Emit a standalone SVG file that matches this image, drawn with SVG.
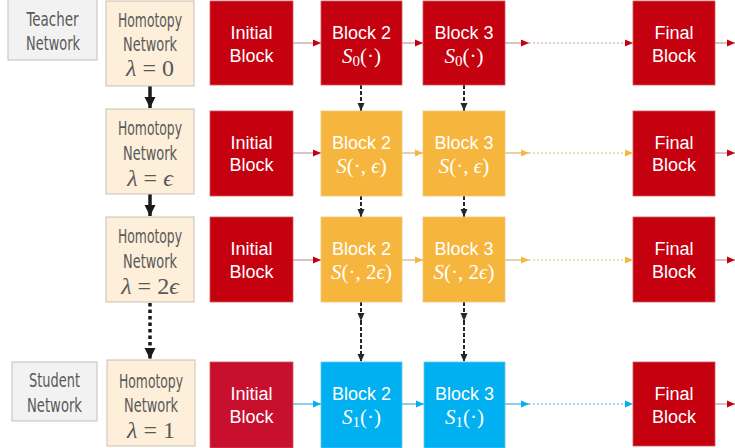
<svg xmlns="http://www.w3.org/2000/svg" width="735" height="448" viewBox="0 0 735 448">
<style>
.bg{fill:#ffffff}
.label{fill:#f2f2f2;stroke:#bfbfbf;stroke-width:1}
.homo{fill:#fdefd9;stroke:#c8c0b4;stroke-width:1}
.red{fill:#c5000f;stroke:#d05a5a;stroke-width:0.8}
.red2{fill:#c8102e;stroke:#d05a5a;stroke-width:0.8}
.yel{fill:#f6b63e;stroke:#f0c878;stroke-width:0.8}
.blu{fill:#00b0f0;stroke:#60c8f0;stroke-width:0.8}
.cond{font-family:"DejaVu Sans Condensed","DejaVu Sans",sans-serif;font-stretch:condensed;font-size:19.5px;fill:#595959;text-anchor:middle}
.math{font-family:"Liberation Serif","DejaVu Serif",serif;font-size:24px;fill:#595959;text-anchor:middle}
.bt{font-family:"Liberation Sans",Arial,sans-serif;font-size:18px;fill:#ffffff;text-anchor:middle}
.bm{font-family:"Liberation Serif","DejaVu Serif",serif;font-size:21px;fill:#ffffff;text-anchor:middle}
.it{font-style:italic}
.lr{stroke:#c8a0a0;stroke-width:1.3;fill:none}
.ly{stroke:#d6b888;stroke-width:1.3;fill:none}
.lb{stroke:#50b4e0;stroke-width:1.3;fill:none}
.dot{stroke-dasharray:2 2;stroke-width:1}
.vd{stroke:#262626;stroke-width:2;stroke-dasharray:4 2;fill:none}
.vs{stroke:#1a1a1a;stroke-width:3.5;fill:none}
.vdot{stroke:#1a1a1a;stroke-width:3.5;stroke-dasharray:3.5 3;fill:none}
</style>
<defs>
<marker id="aR" markerUnits="userSpaceOnUse" markerWidth="10" markerHeight="10" refX="9" refY="5" orient="auto"><path d="M1,1.5 L9,5 L1,8.5 Z" fill="#c5000f"/></marker>
<marker id="aY" markerUnits="userSpaceOnUse" markerWidth="10" markerHeight="10" refX="9" refY="5" orient="auto"><path d="M1,1.5 L9,5 L1,8.5 Z" fill="#f6b63e"/></marker>
<marker id="aB" markerUnits="userSpaceOnUse" markerWidth="10" markerHeight="10" refX="9" refY="5" orient="auto"><path d="M1,1.5 L9,5 L1,8.5 Z" fill="#00b0f0"/></marker>
<marker id="aD" markerUnits="userSpaceOnUse" markerWidth="10" markerHeight="10" refX="9" refY="5" orient="auto"><path d="M1,1.5 L9,5 L1,8.5 Z" fill="#262626"/></marker>
<marker id="aK" markerUnits="userSpaceOnUse" markerWidth="14" markerHeight="14" refX="12" refY="7" orient="auto"><path d="M1,1.5 L12,7 L1,12.5 Z" fill="#1a1a1a"/></marker>
</defs>
<rect class="bg" x="0" y="0" width="735" height="448"/>

<g id="connectors">
  <line class="vs" x1="150" y1="86" x2="150" y2="108" marker-end="url(#aK)"/>
  <line class="vs" x1="150" y1="194" x2="150" y2="216" marker-end="url(#aK)"/>
  <line class="vdot" x1="150" y1="303" x2="150" y2="359" marker-end="url(#aK)"/>
  <line class="lr" x1="293" y1="43" x2="321" y2="43" marker-end="url(#aR)"/>
  <line class="lr" x1="402" y1="43" x2="423" y2="43" marker-end="url(#aR)"/>
  <line class="lr" x1="505" y1="43" x2="529" y2="43" marker-end="url(#aR)"/>
  <line class="lr dot" x1="529" y1="43" x2="633" y2="43" marker-end="url(#aR)"/>
  <line class="lr" x1="715" y1="43" x2="735" y2="43" marker-end="url(#aR)"/>
  <line class="lr" x1="293" y1="153" x2="321" y2="153" marker-end="url(#aR)"/>
  <line class="ly" x1="402" y1="153" x2="423" y2="153" marker-end="url(#aY)"/>
  <line class="ly" x1="505" y1="153" x2="529" y2="153" marker-end="url(#aY)"/>
  <line class="ly dot" x1="529" y1="153" x2="633" y2="153" marker-end="url(#aY)"/>
  <line class="lr" x1="715" y1="153" x2="735" y2="153" marker-end="url(#aR)"/>
  <line class="lr" x1="293" y1="260" x2="321" y2="260" marker-end="url(#aR)"/>
  <line class="ly" x1="402" y1="260" x2="423" y2="260" marker-end="url(#aY)"/>
  <line class="ly" x1="505" y1="260" x2="529" y2="260" marker-end="url(#aY)"/>
  <line class="ly dot" x1="529" y1="260" x2="633" y2="260" marker-end="url(#aY)"/>
  <line class="lr" x1="715" y1="260" x2="735" y2="260" marker-end="url(#aR)"/>
  <line class="lb" x1="293" y1="404" x2="321" y2="404" marker-end="url(#aB)"/>
  <line class="lb" x1="402" y1="404" x2="424" y2="404" marker-end="url(#aB)"/>
  <line class="lb" x1="505" y1="404" x2="529" y2="404" marker-end="url(#aB)"/>
  <line class="lb dot" x1="529" y1="404" x2="633" y2="404" marker-end="url(#aB)"/>
  <line class="lr" x1="715" y1="404" x2="735" y2="404" marker-end="url(#aR)"/>
  <line class="vd" x1="361" y1="85" x2="361" y2="111" marker-end="url(#aD)"/>
  <line class="vd" x1="464" y1="85" x2="464" y2="111" marker-end="url(#aD)"/>
  <line class="vd" x1="361" y1="196" x2="361" y2="217" marker-end="url(#aD)"/>
  <line class="vd" x1="464" y1="196" x2="464" y2="217" marker-end="url(#aD)"/>
  <line class="vd" x1="361" y1="302" x2="361" y2="321" marker-end="url(#aD)"/>
  <line class="vd" x1="361" y1="321" x2="361" y2="362" marker-end="url(#aD)"/>
  <line class="vd" x1="464" y1="302" x2="464" y2="321" marker-end="url(#aD)"/>
  <line class="vd" x1="464" y1="321" x2="464" y2="362" marker-end="url(#aD)"/>
</g>

<g id="teacher">
  <rect class="label" x="8" y="-1" width="89" height="61"/>
  <text class="cond" x="52.5" y="26" textLength="52" lengthAdjust="spacingAndGlyphs">Teacher</text>
  <text class="cond" x="53" y="50" textLength="54" lengthAdjust="spacingAndGlyphs">Network</text>
</g>
<g id="student">
  <rect class="label" x="12" y="362" width="85" height="59"/>
  <text class="cond" x="54.5" y="387" textLength="51" lengthAdjust="spacingAndGlyphs">Student</text>
  <text class="cond" x="54.5" y="412" textLength="55" lengthAdjust="spacingAndGlyphs">Network</text>
</g>

<g id="homotopy0">
  <rect class="homo" x="106" y="1" width="88" height="85"/>
  <text class="cond" x="150" y="27" textLength="64" lengthAdjust="spacingAndGlyphs">Homotopy</text>
  <text class="cond" x="150" y="51" textLength="54" lengthAdjust="spacingAndGlyphs">Network</text>
  <text class="math" x="150" y="76"><tspan class="it">λ</tspan> = 0</text>
</g>
<g id="homotopy1">
  <rect class="homo" x="106" y="109" width="88" height="85"/>
  <text class="cond" x="150" y="135" textLength="64" lengthAdjust="spacingAndGlyphs">Homotopy</text>
  <text class="cond" x="150" y="160" textLength="54" lengthAdjust="spacingAndGlyphs">Network</text>
  <text class="math" x="150" y="186"><tspan class="it">λ</tspan> = <tspan class="it">ϵ</tspan></text>
</g>
<g id="homotopy2">
  <rect class="homo" x="106" y="217" width="88" height="85"/>
  <text class="cond" x="150" y="243" textLength="64" lengthAdjust="spacingAndGlyphs">Homotopy</text>
  <text class="cond" x="150" y="268" textLength="54" lengthAdjust="spacingAndGlyphs">Network</text>
  <text class="math" x="150" y="294"><tspan class="it">λ</tspan> = 2<tspan class="it">ϵ</tspan></text>
</g>
<g id="homotopy3">
  <rect class="homo" x="107" y="360" width="88" height="86"/>
  <text class="cond" x="151" y="388" textLength="64" lengthAdjust="spacingAndGlyphs">Homotopy</text>
  <text class="cond" x="151" y="412" textLength="54" lengthAdjust="spacingAndGlyphs">Network</text>
  <text class="math" x="151" y="438"><tspan class="it">λ</tspan> = 1</text>
</g>

<g id="init0"><rect class="red" x="210" y="1" width="83" height="84"/>
  <text class="bt" x="251.5" y="39">Initial</text><text class="bt" x="251.5" y="62">Block</text></g>
<g id="b2r0"><rect class="red" x="321" y="1" width="81" height="84"/>
  <text class="bt" x="361.5" y="39">Block 2</text>
  <text class="bm" x="361.5" y="63"><tspan class="it">S</tspan><tspan font-size="15" dy="3">0</tspan><tspan dy="-3">(·)</tspan></text></g>
<g id="b3r0"><rect class="red" x="423" y="1" width="82" height="84"/>
  <text class="bt" x="464" y="39">Block 3</text>
  <text class="bm" x="464" y="63"><tspan class="it">S</tspan><tspan font-size="15" dy="3">0</tspan><tspan dy="-3">(·)</tspan></text></g>
<g id="finr0"><rect class="red" x="633" y="1" width="82" height="84"/>
  <text class="bt" x="674" y="39">Final</text><text class="bt" x="674" y="62">Block</text></g>

<g id="init1"><rect class="red" x="210" y="111" width="83" height="85"/>
  <text class="bt" x="251.5" y="149">Initial</text><text class="bt" x="251.5" y="171">Block</text></g>
<g id="b2r1"><rect class="yel" x="321" y="111" width="81" height="85"/>
  <text class="bt" x="361.5" y="149">Block 2</text>
  <text class="bm" x="361.5" y="173"><tspan class="it">S</tspan>(·, <tspan class="it">ϵ</tspan>)</text></g>
<g id="b3r1"><rect class="yel" x="423" y="111" width="82" height="85"/>
  <text class="bt" x="464" y="149">Block 3</text>
  <text class="bm" x="464" y="173"><tspan class="it">S</tspan>(·, <tspan class="it">ϵ</tspan>)</text></g>
<g id="finr1"><rect class="red" x="633" y="111" width="82" height="85"/>
  <text class="bt" x="674" y="149">Final</text><text class="bt" x="674" y="171">Block</text></g>

<g id="init2"><rect class="red" x="210" y="217" width="83" height="85"/>
  <text class="bt" x="251.5" y="255">Initial</text><text class="bt" x="251.5" y="278">Block</text></g>
<g id="b2r2"><rect class="yel" x="321" y="217" width="81" height="85"/>
  <text class="bt" x="361.5" y="255">Block 2</text>
  <text class="bm" x="361.5" y="279"><tspan class="it">S</tspan>(·, 2<tspan class="it">ϵ</tspan>)</text></g>
<g id="b3r2"><rect class="yel" x="423" y="217" width="82" height="85"/>
  <text class="bt" x="464" y="255">Block 3</text>
  <text class="bm" x="464" y="279"><tspan class="it">S</tspan>(·, 2<tspan class="it">ϵ</tspan>)</text></g>
<g id="finr2"><rect class="red" x="633" y="217" width="82" height="85"/>
  <text class="bt" x="674" y="255">Final</text><text class="bt" x="674" y="278">Block</text></g>

<g id="init3"><rect class="red2" x="210" y="362" width="83" height="86"/>
  <text class="bt" x="251.5" y="400">Initial</text><text class="bt" x="251.5" y="423">Block</text></g>
<g id="b2r3"><rect class="blu" x="321" y="362" width="81" height="86"/>
  <text class="bt" x="361.5" y="400">Block 2</text>
  <text class="bm" x="361.5" y="424"><tspan class="it">S</tspan><tspan font-size="15" dy="3">1</tspan><tspan dy="-3">(·)</tspan></text></g>
<g id="b3r3"><rect class="blu" x="424" y="362" width="81" height="86"/>
  <text class="bt" x="464.5" y="400">Block 3</text>
  <text class="bm" x="464.5" y="424"><tspan class="it">S</tspan><tspan font-size="15" dy="3">1</tspan><tspan dy="-3">(·)</tspan></text></g>
<g id="finr3"><rect class="red" x="633" y="362" width="82" height="84"/>
  <text class="bt" x="674" y="400">Final</text><text class="bt" x="674" y="423">Block</text></g>
</svg>
